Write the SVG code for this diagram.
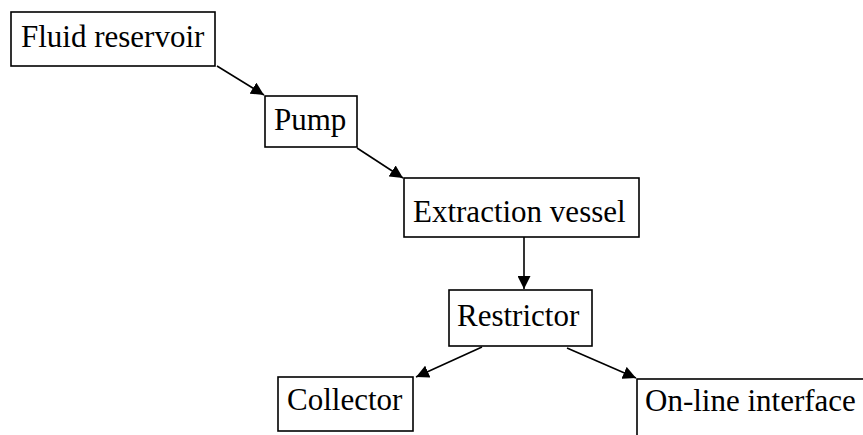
<svg xmlns="http://www.w3.org/2000/svg" width="863" height="435" viewBox="0 0 863 435">
<style>
.box{fill:#fff;stroke:#000;stroke-width:1.6}
.lbl{font-family:"Liberation Serif","Times New Roman",serif;font-size:31px;fill:#000}
.edge{stroke:#000;stroke-width:1.6;fill:none;marker-end:url(#ah)}
</style>
<defs>
<marker id="ah" markerUnits="userSpaceOnUse" markerWidth="14" markerHeight="13" refX="13" refY="6.5" orient="auto">
<path d="M0,0 L13,6.5 L0,13 z" fill="#000"/>
</marker>
</defs>
<rect width="863" height="435" fill="#fff"/>
<g id="connectors">
<line class="edge" x1="217" y1="66" x2="264" y2="95"/>
<line class="edge" x1="357" y1="148" x2="403" y2="178"/>
<line class="edge" x1="524" y1="237" x2="524" y2="289"/>
<line class="edge" x1="482" y1="347" x2="416" y2="377"/>
<line class="edge" x1="567" y1="348" x2="636" y2="378"/>
</g>
<g id="fluid-reservoir">
<rect class="box" x="11" y="12" width="204" height="54"/>
<text class="lbl" x="21" y="47">Fluid reservoir</text>
</g>
<g id="pump">
<rect class="box" x="265" y="96" width="92" height="51"/>
<text class="lbl" x="274" y="130">Pump</text>
</g>
<g id="extraction-vessel">
<rect class="box" x="404" y="178" width="235" height="59"/>
<text class="lbl" x="413" y="222">Extraction vessel</text>
</g>
<g id="restrictor">
<rect class="box" x="449" y="290" width="143" height="56"/>
<text class="lbl" x="457" y="326">Restrictor</text>
</g>
<g id="collector">
<rect class="box" x="278" y="377" width="135" height="54"/>
<text class="lbl" x="287" y="410">Collector</text>
</g>
<g id="on-line-interface">
<rect class="box" x="637" y="379" width="240" height="80"/>
<text class="lbl" x="645" y="411">On-line interface</text>
</g>
</svg>
